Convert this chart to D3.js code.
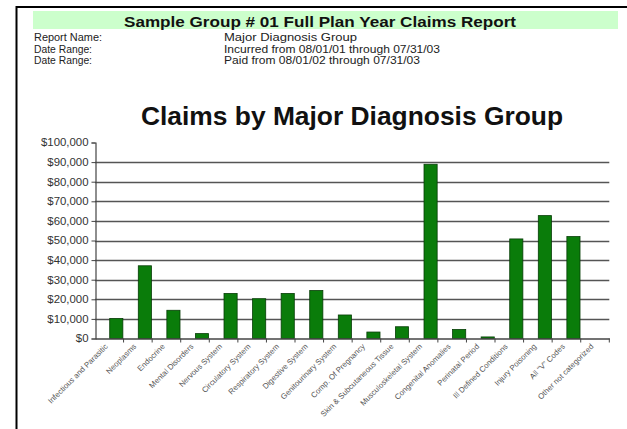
<!DOCTYPE html>
<html><head><meta charset="utf-8">
<script src="https://cdn.jsdelivr.net/npm/d3@7"></script>
<style>
html,body{margin:0;padding:0;background:#fff;}
svg{display:block;font-family:"Liberation Sans",Arial,Helvetica,sans-serif;}
</style></head>
<body>
<svg id="c" width="627" height="429"></svg>
<script>
const categories = [
  "Infectious and Parasitic","Neoplasms","Endocrine","Mental Disorders","Nervous System",
  "Circulatory System","Respiratory System","Digestive System","Genitourinary System",
  "Comp. Of Pregnancy","Skin & Subcutaneous Tissue","Musculoskeletal System",
  "Congenital Anomalies","Perinatal Period","Ill Defined Conditions","Injury Poisoning",
  "All \"V\" Codes","Other not categorized"
];
const claims = [10200, 37100, 14400, 2500, 23000, 20300, 23000, 24500, 12000,
  3300, 6000, 88900, 4600, 800, 50800, 62700, 52000, 0];
const yTicks = [0,10000,20000,30000,40000,50000,60000,70000,80000,90000,100000];
const reportTitle = "Sample Group # 01 Full Plan Year Claims Report";
const infoLabels = ["Report Name:", "Date Range:", "Date Range:"];
const infoValues = ["Major Diagnosis Group", "Incurred from 08/01/01 through 07/31/03", "Paid from 08/01/02 through 07/31/03"];
const chartTitle = "Claims by Major Diagnosis Group";

const svg = d3.select("#c");
svg.append("rect").attr("width",627).attr("height",429).attr("fill","#fff");

// frame lines
svg.append("line").attr("x1",16.5).attr("x2",16.5).attr("y1",6).attr("y2",429).attr("stroke","#000").attr("stroke-width",2);
svg.append("line").attr("x1",16).attr("x2",627).attr("y1",7).attr("y2",7).attr("stroke","#000").attr("stroke-width",2);

// header band
svg.append("rect").attr("x",33).attr("y",11).attr("width",585).attr("height",18).attr("fill","#ccffcc");
svg.append("text").attr("x",124).attr("y",26.5).attr("font-size",14).attr("font-weight","bold")
  .attr("fill","#111").attr("textLength",392).attr("lengthAdjust","spacingAndGlyphs").text(reportTitle);

const infoY = [41, 52.5, 64];
const labelW = [68, 58, 58];
const valueW = [133, 216, 196];
infoLabels.forEach((t,i)=>{
  svg.append("text").attr("x",34).attr("y",infoY[i]).attr("font-size",10).attr("fill","#222")
    .attr("textLength",labelW[i]).attr("lengthAdjust","spacingAndGlyphs").text(t);
});
infoValues.forEach((t,i)=>{
  svg.append("text").attr("x",224).attr("y",infoY[i]).attr("font-size",10).attr("fill","#222")
    .attr("textLength",valueW[i]).attr("lengthAdjust","spacingAndGlyphs").text(t);
});

svg.append("text").attr("x",141).attr("y",124.5).attr("font-size",26.5).attr("font-weight","bold")
  .attr("fill","#111").attr("textLength",422).attr("lengthAdjust","spacingAndGlyphs").text(chartTitle);

// scales
const x = d3.scaleBand().domain(categories).range([95, 609.3]).padding(0);
const y = d3.scaleLinear().domain([0,100000]).range([338.5, 142.5]);
const bw = x.bandwidth();

// gridlines
svg.append("g").selectAll("line").data(yTicks.filter(v=>v>0 && v<100000)).join("line")
  .attr("x1",95).attr("x2",609.3).attr("y1",d=>Math.round(y(d))+0.5).attr("y2",d=>Math.round(y(d))+0.5)
  .attr("stroke","#555").attr("stroke-width",1.3);

// y axis
const yAxis = d3.axisLeft(y).tickValues(yTicks).tickSize(4).tickFormat(d=>"$"+d3.format(",")(d));
const gy = svg.append("g").attr("transform","translate(95.5,0)").call(yAxis);
gy.select(".domain").attr("stroke","#444").attr("stroke-width",1.2);
gy.selectAll(".tick line").attr("stroke","#444");
gy.selectAll(".tick text").attr("font-size",10).attr("fill","#333").attr("font-family","Liberation Sans,Arial,sans-serif")
  .attr("x",-7).attr("dy","0.33em")
  .each(function(){ const w=this.getComputedTextLength(); d3.select(this).attr("textLength",w*1.14).attr("lengthAdjust","spacingAndGlyphs"); });

// bars
svg.append("g").selectAll("rect").data(categories).join("rect")
  .attr("x",d=>x(d)+bw*0.515).attr("width",bw*0.46)
  .attr("y",(d,i)=>y(claims[i])).attr("height",(d,i)=>y(0)-y(claims[i]))
  .attr("fill","#0a7c0a").attr("stroke","#073d07").attr("stroke-width",0.8)
  .attr("display",(d,i)=>claims[i]>0?null:"none");

// x axis
const xAxis = d3.axisBottom(x).tickSize(0).tickFormat("");
const gx = svg.append("g").attr("transform","translate(0,338.5)").call(xAxis);
gx.select(".domain").attr("stroke","#444").attr("stroke-width",1.3);
// boundary ticks
const bounds = categories.map(c=>x(c)+bw);
svg.append("g").selectAll("line").data(bounds).join("line")
  .attr("x1",d=>d).attr("x2",d=>d).attr("y1",338.5).attr("y2",342.5).attr("stroke","#444");

// x labels
svg.append("g").selectAll("text").data(categories).join("text")
  .attr("transform",d=>`translate(${x(d)+bw/2-1},${347}) rotate(-45)`)
  .attr("text-anchor","end").attr("font-size",7.8).attr("fill","#555")
  .text(d=>d);
</script>
</body></html>
